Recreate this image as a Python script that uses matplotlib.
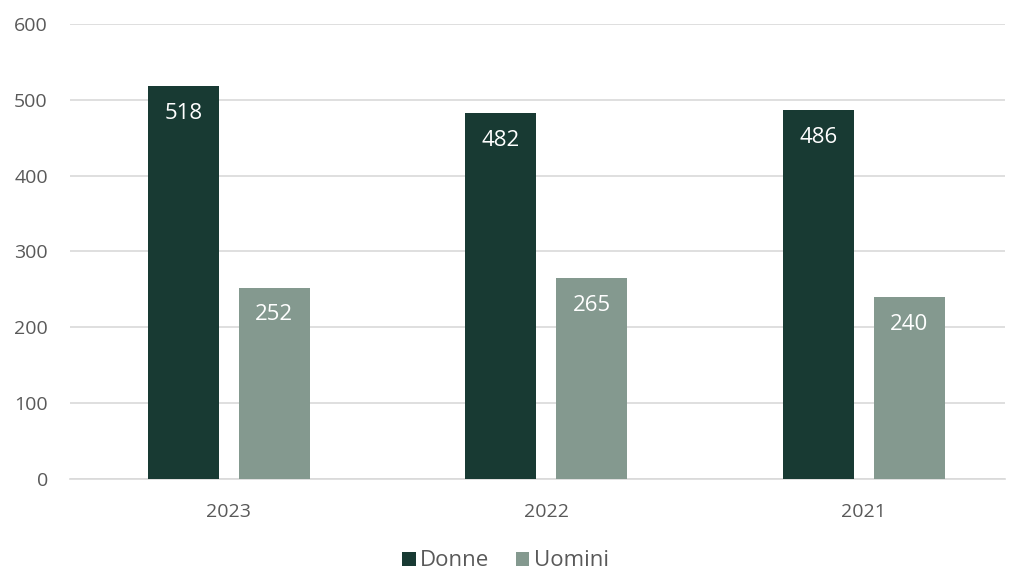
import numpy as np
import matplotlib.pyplot as plt

years = ['2023', '2022', '2021']
donne = [518, 482, 486]
uomini = [252, 265, 240]

dark = '#183a33'
light = '#84998f'

plt.rcParams['font.family'] = ['Open Sans', 'DejaVu Sans']

fig = plt.figure(figsize=(10.11, 5.72), dpi=100)
ax = fig.add_axes([70 / 1011, (572 - 479) / 572, 935 / 1011, (479 - 24) / 572])

x = np.arange(len(years))
w = 0.224
off = 0.143
b1 = ax.bar(x - off, donne, w, color=dark, label='Donne', zorder=3)
b2 = ax.bar(x + off, uomini, w, color=light, label='Uomini', zorder=3)

for bars in (b1, b2):
    for r in bars:
        ax.annotate(str(int(r.get_height())), (r.get_x() + r.get_width() / 2, r.get_height()),
                    xytext=(0, -19.5), textcoords='offset points', ha='center', va='center',
                    color='white', fontsize=16, zorder=4)

ax.set_xlim(-0.5, -0.5 + 935 / 317.5)
ax.set_ylim(0, 600)
ax.set_yticks(range(0, 601, 100))
ax.set_xticks(x)
ax.set_xticklabels(years)
ax.grid(axis='y', color='#d9d9d9', linewidth=1.2, zorder=0)
for s in ax.spines.values():
    s.set_visible(False)
ax.spines['bottom'].set_visible(True)
ax.spines['bottom'].set_color('#d9d9d9')
ax.spines['bottom'].set_linewidth(1.2)
ax.tick_params(axis='both', length=0, labelsize=14, colors='#595959')
ax.tick_params(axis='y', pad=16)
ax.tick_params(axis='x', pad=17)

fig.legend(handles=[b1, b2], loc='center', bbox_to_anchor=(0.5, 1 - 561 / 572), ncol=2,
           frameon=False, fontsize=16, handlelength=0.6, handleheight=0.6,
           handletextpad=0.2, columnspacing=1.2, labelcolor='#595959')

fig.savefig('out.png', dpi=100)
